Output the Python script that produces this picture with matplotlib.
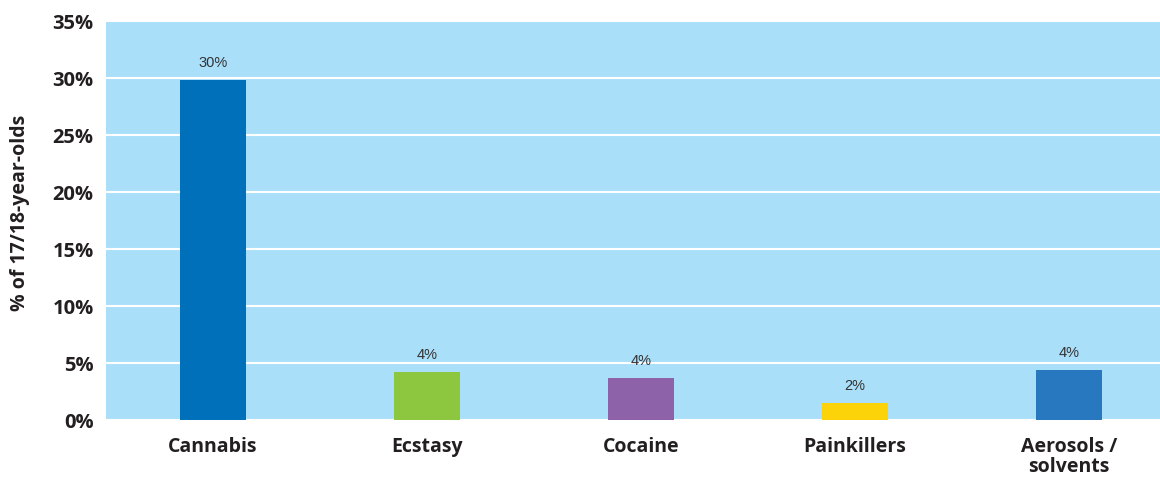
import matplotlib
matplotlib.use("Agg")
import matplotlib.pyplot as plt

# substances and share of 17/18-year-olds who have tried them (%)
categories = ["Cannabis", "Ecstasy", "Cocaine", "Painkillers", "Aerosols /\nsolvents"]
values = [29.8, 4.2, 3.7, 1.5, 4.4]
value_labels = ["30%", "4%", "4%", "2%", "4%"]
colors = ["#0070ba", "#8dc63f", "#8e62a8", "#fcd208", "#2878c0"]
yticks = [0, 5, 10, 15, 20, 25, 30, 35]

plt.rcParams['font.family'] = ['Open Sans', 'DejaVu Sans']

fig = plt.figure(figsize=(11.6, 4.78), dpi=100)
ax = fig.add_axes([106/1160, 58/478, 1 - 106/1160, 400/478])
ax.set_facecolor("#aadff9")

x = range(len(categories))
bars = ax.bar(x, values, width=0.31, color=colors, zorder=2)

for b, lab in zip(bars, value_labels):
    ax.annotate(lab, (b.get_x() + b.get_width()/2, b.get_height()),
                xytext=(0, 9.5), textcoords="offset points",
                ha="center", va="baseline", fontsize=10.5, color="#333333",
                family=["Liberation Sans", "DejaVu Sans"])

ax.set_xlim(-0.5, -0.5 + 1054/214)
ax.set_ylim(0, 35.1)
ax.set_yticks(yticks)
ax.set_yticklabels([f"{t}%" for t in yticks], fontsize=14.5, fontweight="bold", color="#231f20")
ax.set_xticks(list(x))
ax.set_xticklabels(categories, fontsize=14, fontweight="bold", color="#231f20", linespacing=1.0)
ax.tick_params(axis="both", length=0)
ax.tick_params(axis="y", pad=9)
ax.tick_params(axis="x", pad=12)

ax.yaxis.grid(True, color="white", linewidth=1.5, zorder=1)
ax.set_axisbelow(True)
for s in ax.spines.values():
    s.set_visible(False)

ax.set_ylabel("% of 17/18-year-olds", fontsize=14, fontweight="bold", color="#231f20")
ax.yaxis.set_label_coords(-0.072, 0.518)

fig.savefig("out.png", dpi=100)
